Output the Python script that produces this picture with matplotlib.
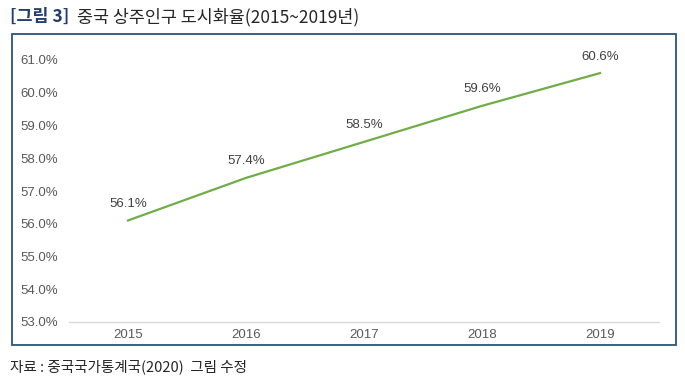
import matplotlib
matplotlib.use("Agg")
import matplotlib.pyplot as plt
from matplotlib.patches import Rectangle

plt.rcParams['font.family'] = ['Noto Sans CJK KR', 'DejaVu Sans']

years = ["2015", "2016", "2017", "2018", "2019"]
rates = [56.1, 57.4, 58.5, 59.6, 60.6]
yticks = [53, 54, 55, 56, 57, 58, 59, 60, 61]

fig = plt.figure(figsize=(6.85, 3.87), dpi=100)
W, H = 685, 387

# outer frame
fig.patches.append(Rectangle((12 / W, 1 - 345 / H), (676 - 12) / W, (345 - 34) / H,
                             transform=fig.transFigure, fill=False,
                             edgecolor="#2a5677", linewidth=1.3))

ax = fig.add_axes([69 / W, 1 - 322 / H, (659 - 69) / W, (322 - 60) / H])
x = list(range(len(years)))
ax.plot(x, rates, color="#70ad47", linewidth=1.6)
for xi, v in zip(x, rates):
    ax.annotate(f"{v:.1f}%", (xi, v), xytext=(0, 7.5), textcoords="offset points",
                ha="center", va="bottom", fontsize=9.5, color="#404040",
                family=["Liberation Sans", "DejaVu Sans"], annotation_clip=False)

ax.set_xlim(-0.5, 4.5)
ax.set_ylim(53, 61)
ax.set_xticks(x)
ax.set_xticklabels(years)
ax.set_yticks(yticks)
ax.set_yticklabels([f"{t:.1f}%" for t in yticks])
for lbl in ax.get_xticklabels() + ax.get_yticklabels():
    lbl.set_family(["Liberation Sans", "DejaVu Sans"])
    lbl.set_fontsize(9.5)
    lbl.set_color("#595959")
ax.tick_params(axis="x", length=0, pad=5)
ax.tick_params(axis="y", length=0, pad=8)
for s in ["top", "right", "left"]:
    ax.spines[s].set_visible(False)
ax.spines["bottom"].set_color("#d9d9d9")
ax.spines["bottom"].set_linewidth(1)

fig.text(10 / W, 1 - 17 / H, "[그림 3]", fontsize=12.5, color="#1f3d6d",
         fontweight="bold", va="center", ha="left")
fig.text(77 / W, 1 - 17 / H, "중국 상주인구 도시화율(2015~2019년)", fontsize=12.5,
         color="#262626", va="center", ha="left")
fig.text(10 / W, 1 - 367 / H, "자료 : 중국국가통계국(2020)  그림 수정", fontsize=10.5,
         color="#262626", va="center", ha="left")

fig.savefig("out.png", dpi=100)
